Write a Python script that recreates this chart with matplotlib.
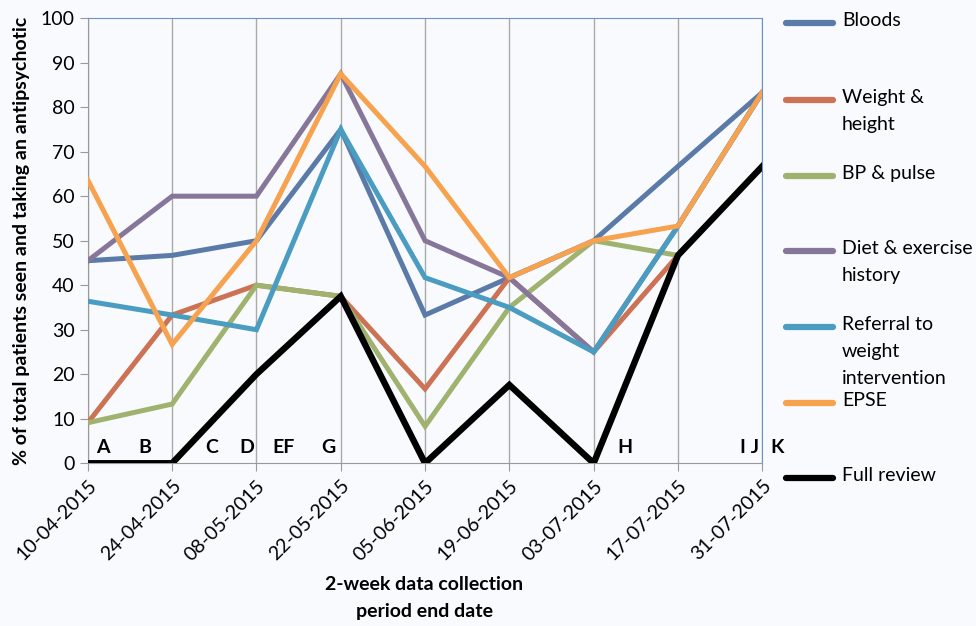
import matplotlib
matplotlib.use('Agg')
import matplotlib.pyplot as plt
from matplotlib.lines import Line2D

plt.rcParams['font.family'] = ['Lato', 'DejaVu Sans']

DATES = ['10-04-2015', '24-04-2015', '08-05-2015', '22-05-2015', '05-06-2015',
         '19-06-2015', '03-07-2015', '17-07-2015', '31-07-2015']

BLOODS = [45.5, 46.7, 50.0, 75.0, 33.3, 41.7, 50.0, 66.7, 83.3]
WEIGHT = [9.1, 33.3, 40.0, 37.5, 16.7, 41.7, 25.0, 46.7, 66.7]
BP = [9.1, 13.3, 40.0, 37.5, 8.3, 35.0, 50.0, 46.7, 66.7]
DIET = [45.5, 60.0, 60.0, 87.5, 50.0, 41.7, 25.0, 53.3, 83.3]
REFERRAL = [36.4, 33.3, 30.0, 75.0, 41.7, 35.0, 25.0, 53.3, 83.3]
EPSE = [63.6, 26.7, 50.0, 87.5, 66.7, 41.7, 50.0, 53.3, 83.3]
FULL = [0.0, 0.0, 20.0, 37.5, 0.0, 17.6, 0.0, 46.7, 66.7]

SERIES = [
    ('Bloods', BLOODS, '#5a7ba8'),
    ('Weight &\nheight', WEIGHT, '#cc7255'),
    ('BP & pulse', BP, '#9fb26e'),
    ('Diet & exercise\nhistory', DIET, '#86779a'),
    ('Referral to\nweight\nintervention', REFERRAL, '#4a9cc0'),
    ('EPSE', EPSE, '#f6a24e'),
    ('Full review', FULL, '#000000'),
]

# event markers along the bottom of the plot
EVENTS = ['A', 'B', 'C', 'D', 'EF', 'G', 'H', 'I J', 'K']
EVENT_X = [0.18, 0.68, 1.47, 1.89, 2.32, 2.85, 6.37, 7.85, 8.17]

BG = '#f9fafd'
fig = plt.figure(figsize=(9.76, 6.26), dpi=100, facecolor=BG)
ax = fig.add_axes([0.090, 0.260, 0.691, 0.711], facecolor=BG)

x = list(range(len(DATES)))
for name, vals, col in SERIES:
    lw = 4.6 if col == '#000000' else 3.6
    ax.plot(x, vals, color=col, lw=lw, solid_joinstyle='miter', zorder=3)

for lab, ex in zip(EVENTS, EVENT_X):
    ax.text(ex, 3.5, lab, ha='center', va='center', fontsize=14,
            fontweight='bold', clip_on=False, zorder=4)

ax.set_xlim(0, len(DATES) - 1)
ax.set_ylim(0, 100)
ax.set_yticks(range(0, 101, 10))
ax.set_xticks(x)
ax.set_xticklabels(DATES, rotation=45, ha='right', rotation_mode='anchor')
ax.tick_params(axis='both', labelsize=14, color='#999999', length=6)
ax.tick_params(axis='x', pad=4)
ax.grid(True, axis='x', color='#aaaaaa', lw=1)
for s in ('left', 'bottom'):
    ax.spines[s].set_color('#999999')
for s in ('top', 'right'):
    ax.spines[s].set_color('#6a93c8')
    ax.spines[s].set_linewidth(0.8)

ax.set_ylabel('% of total patients seen and taking an antipsychotic',
              fontsize=14, fontweight='bold', labelpad=8)
fig.text(0.435, 1 - 585 / 626, '2-week data collection', ha='center',
         va='center', fontsize=14, fontweight='bold')
fig.text(0.435, 1 - 612 / 626, 'period end date', ha='center', va='center',
         fontsize=14, fontweight='bold')

# hand-placed legend, spaced like the original (pixel y of first text line)
leg_y = [23, 100, 176, 251, 327, 403, 478]
for (name, vals, col), py in zip(SERIES, leg_y):
    ty = 1 - py / 626
    fig.add_artist(Line2D([786 / 976, 833 / 976], [ty, ty], color=col,
                          lw=4.5, solid_capstyle='round'))
    fig.text(842 / 976, 1 - (py - 11) / 626, name, ha='left', va='top',
             fontsize=14, linespacing=1.7)

fig.savefig('out.png', dpi=100, facecolor=BG)
